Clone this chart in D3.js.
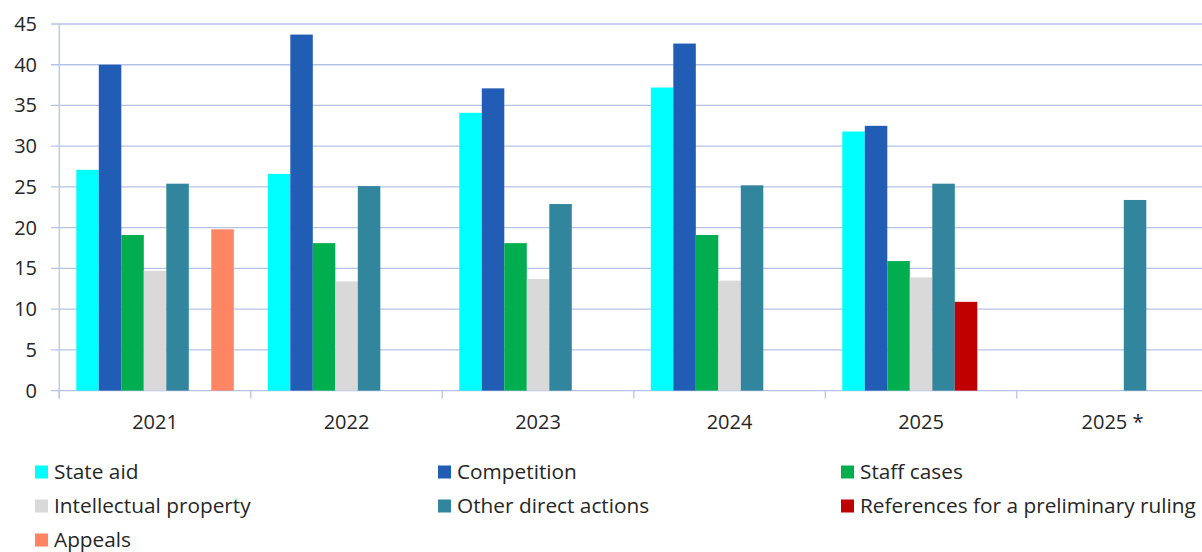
<!DOCTYPE html>
<html>
<head>
<meta charset="utf-8">
<script src="https://cdn.jsdelivr.net/npm/d3@7"></script>
<style>
  html, body { margin: 0; padding: 0; background: #fff; }
  svg { display: block; font-family: "Open Sans", "Noto Sans", sans-serif; }
</style>
</head>
<body>
<svg id="chart" width="1202" height="552"></svg>
<script>
const categories = ["2021", "2022", "2023", "2024", "2025", "2025 *"];
const seriesNames = ["State aid", "Competition", "Staff cases", "Intellectual property",
  "Other direct actions", "References for a preliminary ruling", "Appeals"];
const stateAid    = [27.1, 26.6, 34.1, 37.2, 31.8, null];
const competition = [40.0, 43.7, 37.1, 42.6, 32.5, null];
const staffCases  = [19.1, 18.1, 18.1, 19.1, 15.9, null];
const intellectualProperty = [14.7, 13.4, 13.7, 13.5, 13.9, null];
const otherDirectActions   = [25.4, 25.1, 22.9, 25.2, 25.4, 23.4];
const preliminaryRulings   = [null, null, null, null, 10.9, null];
const appeals     = [19.8, null, null, null, null, null];
const yTicks = [0, 5, 10, 15, 20, 25, 30, 35, 40, 45];

const seriesValues = [stateAid, competition, staffCases, intellectualProperty,
  otherDirectActions, preliminaryRulings, appeals];
const colors = ["#00FFFF", "#215DB5", "#00AD4F", "#D9D9D9", "#31859C", "#C00000", "#FF8565"];

const svg = d3.select("#chart");
const x0 = 59.3, x1End = 1208.3, yBottom = 390.6, yTop = 24;
const gridColor = "#B7C3E6";
const textColor = "#262626";

const x = d3.scaleBand().domain(categories).range([x0, x1End]).paddingInner(0).paddingOuter(0);
const xs = d3.scaleBand().domain(d3.range(seriesNames.length))
  .range([17, x.bandwidth() - 17]).padding(0);
const y = d3.scaleLinear().domain([0, 45]).range([yBottom, yTop]);

// gridlines
svg.append("g").selectAll("line").data(yTicks).join("line")
  .attr("x1", 51).attr("x2", 1202)
  .attr("y1", d => y(d)).attr("y2", d => y(d))
  .attr("stroke", gridColor).attr("stroke-width", 1.3);

// y axis line
svg.append("line").attr("x1", x0).attr("x2", x0).attr("y1", yTop).attr("y2", yBottom + 8)
  .attr("stroke", gridColor).attr("stroke-width", 1.3);

// y labels
svg.append("g").selectAll("text").data(yTicks).join("text")
  .attr("x", 37).attr("y", d => y(d)).attr("dy", "0.35em")
  .attr("text-anchor", "end").attr("font-size", 20).attr("fill", textColor)
  .text(d => d);

// bars
const data = [];
categories.forEach((c, ci) => {
  seriesValues.forEach((arr, si) => {
    if (arr[ci] != null) data.push({ c, si, v: arr[ci] });
  });
});
svg.append("g").selectAll("rect").data(data).join("rect")
  .attr("x", d => x(d.c) + xs(d.si))
  .attr("width", xs.bandwidth())
  .attr("y", d => y(d.v))
  .attr("height", d => y(0) - y(d.v))
  .attr("fill", d => colors[d.si]);

// category ticks
const tickXs = categories.map(c => x(c)).concat([x(categories[categories.length - 1]) + x.bandwidth()]);
svg.append("g").selectAll("line").data(tickXs.filter(v => v <= 1202)).join("line")
  .attr("x1", d => d).attr("x2", d => d)
  .attr("y1", yBottom).attr("y2", yBottom + 8)
  .attr("stroke", gridColor).attr("stroke-width", 1.3);

// x labels
svg.append("g").selectAll("text").data(categories).join("text")
  .attr("x", d => x(d) + x.bandwidth() / 2).attr("y", 429)
  .attr("text-anchor", "middle").attr("font-size", 20).attr("fill", textColor)
  .text(d => d);

// legend
const legCols = [35, 438, 841];
const legRows = [472, 506, 540];
const leg = svg.append("g").selectAll("g").data(seriesNames).join("g")
  .attr("transform", (d, i) => `translate(${legCols[i % 3]},${legRows[Math.floor(i / 3)]})`);
leg.append("rect").attr("x", 0).attr("y", -6.5).attr("width", 13).attr("height", 13)
  .attr("fill", (d, i) => colors[i]);
leg.append("text").attr("x", 19).attr("y", 0).attr("dy", "0.35em")
  .attr("font-size", 20.8).attr("fill", textColor).text(d => d);
</script>
</body>
</html>
